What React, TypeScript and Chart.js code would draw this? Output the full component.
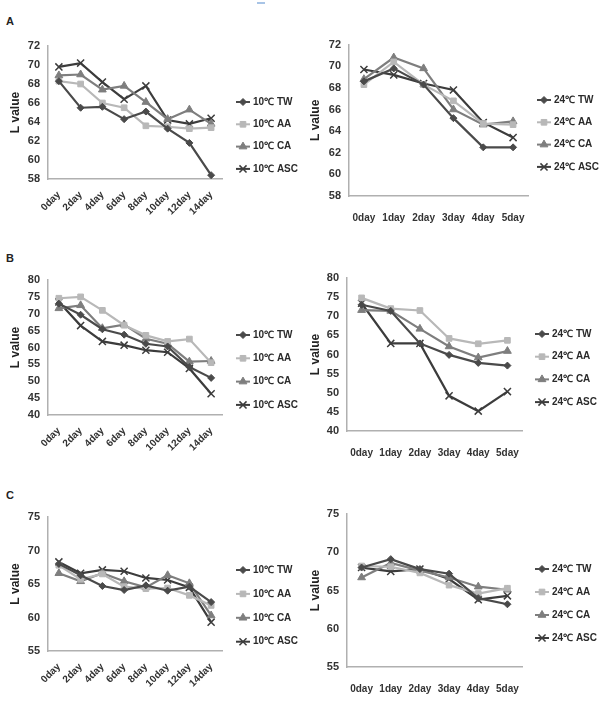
import React, { useEffect, useRef } from "react";
import { Chart, registerables } from "chart.js";
import { drawPoint } from "chart.js/helpers";

Chart.register(...registerables);

// ---- categories ----
const daysLong = ["0day", "2day", "4day", "6day", "8day", "10day", "12day", "14day"];
const daysShort = ["0day", "1day", "2day", "3day", "4day", "5day"];
const seriesNames = ["TW", "AA", "CA", "ASC"];

// ---- Panel A ----
const a10TW = [68.3, 65.5, 65.6, 64.3, 65.1, 63.3, 61.8, 58.4];
const a10AA = [68.3, 68.0, 66.0, 65.5, 63.6, 63.5, 63.3, 63.4];
const a10CA = [68.9, 69.0, 67.4, 67.8, 66.1, 64.3, 65.3, 63.8];
const a10ASC = [69.8, 70.2, 68.2, 66.4, 67.8, 64.2, 63.8, 64.4];
const a24TW = [68.6, 69.8, 68.3, 65.2, 62.5, 62.5];
const a24AA = [68.3, 70.4, 68.3, 66.8, 64.7, 64.6];
const a24CA = [68.8, 70.8, 69.8, 66.0, 64.6, 64.9];
const a24ASC = [69.7, 69.2, 68.4, 67.8, 64.8, 63.4];

// ---- Panel B ----
const b10TW = [73.0, 69.7, 65.4, 63.8, 61.1, 60.3, 54.2, 51.0];
const b10AA = [74.6, 75.0, 71.0, 66.6, 63.6, 61.8, 62.5, 55.5];
const b10CA = [71.6, 72.5, 65.7, 66.8, 62.6, 61.1, 55.8, 56.0];
const b10ASC = [73.5, 66.5, 61.8, 60.7, 59.2, 58.6, 53.8, 46.3];
const b24TW = [73.0, 71.4, 62.9, 59.9, 57.8, 57.1];
const b24AA = [74.8, 72.0, 71.5, 64.2, 62.8, 63.7];
const b24CA = [71.6, 71.4, 66.7, 62.1, 59.2, 60.9];
const b24ASC = [73.4, 62.9, 62.9, 49.2, 45.2, 50.3];

// ---- Panel C ----
const c10TW = [68.0, 66.3, 64.7, 64.1, 64.8, 64.0, 64.6, 62.3];
const c10AA = [67.8, 65.7, 66.5, 64.6, 64.3, 64.4, 63.3, 61.8];
const c10CA = [66.6, 65.4, 66.6, 65.4, 64.5, 66.3, 65.1, 60.3];
const c10ASC = [68.3, 66.6, 67.1, 66.9, 65.9, 65.6, 64.5, 59.3];
const c24TW = [68.0, 69.1, 67.8, 67.2, 64.0, 63.2];
const c24AA = [68.2, 68.1, 67.3, 65.7, 64.6, 65.3];
const c24CA = [66.7, 68.6, 67.6, 66.7, 65.5, 65.1];
const c24ASC = [68.0, 67.5, 67.8, 66.5, 63.8, 64.3];

// ---- axis ranges ----
const rangeA = { min: 58, max: 72, step: 2 };
const rangeB = { min: 40, max: 80, step: 5 };
const rangeC = { min: 55, max: 75, step: 5 };

// ---- styles ----
const colors = ["#4a4a4a", "#b8b8b8", "#7e7e7e", "#3c3c3c"];
const pointStyles = ["rectRot", "rect", "triangle", "crossRot"];
const radii = [3.5, 4, 4.5, 5];
const FONT = "'Liberation Sans Narrow', 'Liberation Sans', Arial, sans-serif";

const sideLegend = {
  id: "sideLegend",
  afterDraw(chart: any, _args: any, opts: any) {
    const ctx = chart.ctx;
    chart.data.datasets.forEach((ds: any, i: number) => {
      const y = opts.y + i * opts.gap;
      ctx.save();
      ctx.strokeStyle = ds.borderColor;
      ctx.lineWidth = 2;
      ctx.beginPath();
      ctx.moveTo(opts.x, y);
      ctx.lineTo(opts.x + opts.w, y);
      ctx.stroke();
      ctx.fillStyle = ds.backgroundColor;
      ctx.strokeStyle = ds.borderColor;
      ctx.lineWidth = ds.pointBorderWidth;
      drawPoint(ctx, { pointStyle: ds.pointStyle, radius: ds.pointRadius, rotation: 0, borderWidth: ds.pointBorderWidth }, opts.x + opts.w / 2, y);
      ctx.fillStyle = "#2a2a2a";
      ctx.font = `bold 10px ${FONT}`;
      ctx.textBaseline = "middle";
      ctx.textAlign = "left";
      ctx.fillText(ds.label, opts.x + opts.w + 3, y);
      ctx.restore();
    });
  },
};

type Panel = {
  left: number; top: number; w: number; h: number;
  labels: string[]; temp: string; series: number[][];
  range: { min: number; max: number; step: number };
  padTop: number; padRight: number; yw: number; xh: number; rot: boolean;
  lx: number; ly: number; lgap: number;
};

const panels: Panel[] = [
  { left: 0, top: 30, w: 300, h: 205, labels: daysLong, temp: "10", series: [a10TW, a10AA, a10CA, a10ASC], range: rangeA, padTop: 16, padRight: 78, yw: 48, xh: 56, rot: true, lx: 236, ly: 72, lgap: 22.3 },
  { left: 300, top: 30, w: 304, h: 205, labels: daysShort, temp: "24", series: [a24TW, a24AA, a24CA, a24ASC], range: rangeA, padTop: 11, padRight: 76, yw: 49, xh: 39, rot: false, lx: 237, ly: 70, lgap: 22.3 },
  { left: 0, top: 235, w: 300, h: 235, labels: daysLong, temp: "10", series: [b10TW, b10AA, b10CA, b10ASC], range: rangeB, padTop: 45, padRight: 78, yw: 48, xh: 55, rot: true, lx: 236, ly: 100, lgap: 23.3 },
  { left: 300, top: 235, w: 304, h: 235, labels: daysShort, temp: "24", series: [b24TW, b24AA, b24CA, b24ASC], range: rangeB, padTop: 43, padRight: 82, yw: 47, xh: 39, rot: false, lx: 235, ly: 99, lgap: 22.7 },
  { left: 0, top: 470, w: 300, h: 235, labels: daysLong, temp: "10", series: [c10TW, c10AA, c10CA, c10ASC], range: rangeC, padTop: 47, padRight: 78, yw: 48, xh: 54, rot: true, lx: 236, ly: 100, lgap: 23.9 },
  { left: 300, top: 470, w: 304, h: 235, labels: daysShort, temp: "24", series: [c24TW, c24AA, c24CA, c24ASC], range: rangeC, padTop: 44, padRight: 82, yw: 47, xh: 38, rot: false, lx: 235, ly: 99, lgap: 23 },
];

function ChartPanel({ p }: { p: Panel }) {
  const ref = useRef<HTMLCanvasElement>(null);
  useEffect(() => {
    if (!ref.current) return;
    const chart = new Chart(ref.current, {
      type: "line",
      data: {
        labels: p.labels,
        datasets: p.series.map((vals, i) => ({
          label: `${p.temp}℃ ${seriesNames[i]}`,
          data: vals,
          borderColor: colors[i],
          backgroundColor: colors[i],
          pointStyle: pointStyles[i] as any,
          pointRadius: radii[i],
          pointBorderWidth: i === 3 ? 1.5 : 1,
          borderWidth: 2.2,
          tension: 0,
        })),
      },
      options: {
        responsive: false,
        animation: false,
        layout: { padding: { left: 0, top: p.padTop, right: p.padRight, bottom: 0 } },
        plugins: {
          legend: { display: false },
          tooltip: { enabled: false },
          sideLegend: { x: p.lx, y: p.ly, gap: p.lgap, w: 14 },
        } as any,
        scales: {
          x: {
            type: "category",
            offset: true,
            grid: { display: false, drawTicks: false },
            border: { color: "#b0b0b0", width: 1.5 },
            ticks: {
              font: { family: FONT, size: 10, weight: "bold" },
              color: "#333",
              padding: p.rot ? 10 : 16,
              maxRotation: p.rot ? 45 : 0,
              minRotation: p.rot ? 45 : 0,
              autoSkip: false,
            },
            afterFit: (s: any) => { s.height = p.xh; },
          },
          y: {
            min: p.range.min,
            max: p.range.max,
            grid: { display: false, drawTicks: false },
            border: { color: "#b0b0b0", width: 1.5 },
            ticks: {
              stepSize: p.range.step,
              font: { family: FONT, size: 11, weight: "bold" },
              color: "#333",
              padding: 8,
            },
            title: {
              display: true,
              text: "L value",
              font: { family: FONT, size: 12, weight: "bold" },
              color: "#222",
              padding: { top: 8, bottom: 0 },
            },
            afterFit: (s: any) => { s.width = p.yw; },
          },
        },
      },
      plugins: [sideLegend],
    });
    return () => chart.destroy();
  }, [p]);
  return (
    <canvas
      ref={ref}
      width={p.w}
      height={p.h}
      style={{ position: "absolute", left: p.left, top: p.top, width: p.w, height: p.h }}
    />
  );
}

const letterStyle = (top: number): React.CSSProperties => ({
  position: "absolute",
  left: 6,
  top,
  fontFamily: "'Liberation Sans', Arial, sans-serif",
  fontWeight: "bold",
  fontSize: 11,
  color: "#222",
  lineHeight: "12px",
});

export default function App() {
  return (
    <div style={{ position: "fixed", left: 0, top: 0, width: 604, height: 705, background: "#fff", overflow: "hidden" }}>
      <div style={{ position: "absolute", left: 257, top: 2, width: 8, height: 2, background: "#a8c4e6" }} />
      <div style={letterStyle(15)}>A</div>
      <div style={letterStyle(252)}>B</div>
      <div style={letterStyle(489)}>C</div>
      {panels.map((p, i) => (
        <ChartPanel key={i} p={p} />
      ))}
    </div>
  );
}
